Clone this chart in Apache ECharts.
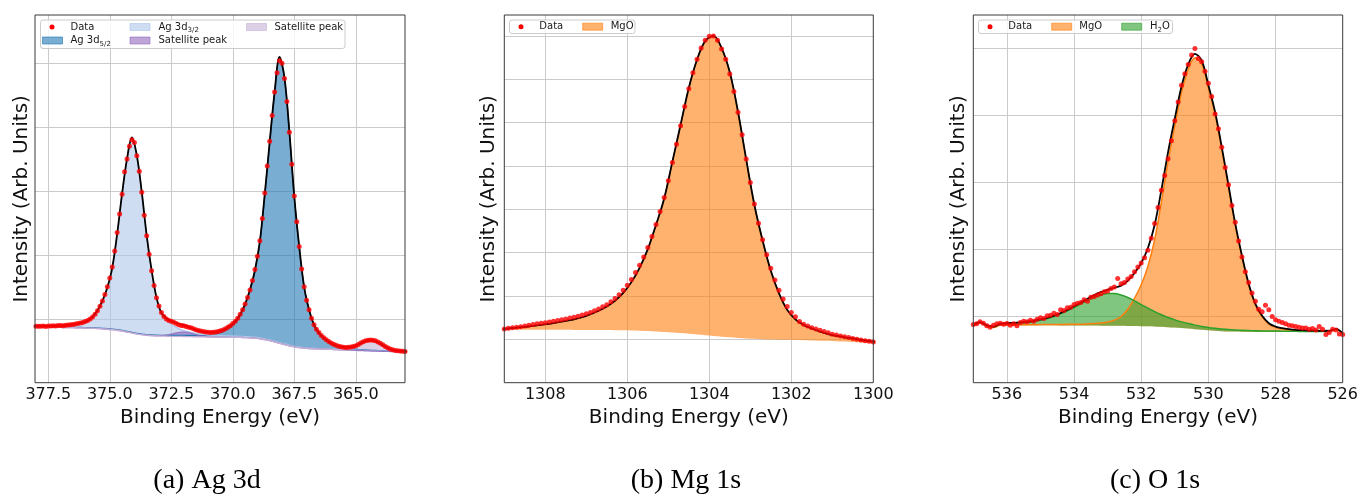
<!DOCTYPE html>
<html><head><meta charset="utf-8">
<script src="https://cdn.jsdelivr.net/npm/echarts@6/dist/echarts.min.js"></script>
<style>html,body{margin:0;padding:0;background:#fff}#c{width:1359px;height:496px}</style>
</head><body><div id="c"></div><script>
// ---------------- (a) Ag 3d ----------------
const agRange = [363.0, 378.04];
const agTickStep = 2.5;
const agCompE0 = 378.1, agCompStep = 0.2;   // component grid (eV)
const agDataE0 = 378.0, agDataStep = 0.1;   // measured points (eV)
const agBg = [0.870,0.869,0.868,0.867,0.866,0.865,0.864,0.863,0.861,0.859,
 0.857,0.855,0.852,0.848,0.843,0.837,0.830,0.821,0.809,0.794,
 0.778,0.763,0.751,0.743,0.737,0.733,0.730,0.728,0.726,0.725,
 0.724,0.722,0.720,0.718,0.717,0.716,0.715,0.714,0.713,0.712,
 0.711,0.710,0.708,0.706,0.703,0.697,0.688,0.675,0.658,0.638,
 0.617,0.597,0.578,0.562,0.550,0.541,0.535,0.531,0.528,0.525,
 0.522,0.519,0.516,0.513,0.510,0.507,0.504,0.501,0.498,0.495,
 0.493,0.491,0.489,0.487,0.485,0.483,0.481];
const agP32 = [0.011,0.012,0.014,0.016,0.018,0.022,0.026,0.032,0.043,0.060,
 0.081,0.108,0.171,0.275,0.430,0.645,0.960,1.500,2.140,2.700,
 3.050,2.780,2.220,1.550,1.010,0.586,0.340,0.250,0.185,0.140,
 0.105,0.082,0.066,0.054,0.045,0.038,0.033,0.029,0.026,0.023,
 0.021,0.019,0.017,0.016,0.015,0.014,0.013,0.012,0.011,0.010,
 0.010,0.009,0.009,0.008,0.008,0.007,0.007,0.007,0.006,0.006,
 0.006,0.005,0.005,0.005,0.005,0.005,0.005,0.005,0.004,0.004,
 0.004,0.004,0.004,0.004,0.004,0.004,0.004];
const agP52 = [0.005,0.005,0.005,0.006,0.006,0.006,0.006,0.006,0.007,0.007,
 0.007,0.007,0.007,0.007,0.007,0.008,0.008,0.008,0.008,0.009,
 0.009,0.009,0.010,0.010,0.011,0.011,0.012,0.013,0.014,0.015,
 0.016,0.018,0.020,0.022,0.025,0.030,0.036,0.050,0.071,0.110,
 0.158,0.231,0.345,0.508,0.742,1.049,1.509,2.263,3.100,3.900,
 4.470,4.170,3.340,2.340,1.570,0.950,0.600,0.370,0.246,0.168,
 0.115,0.072,0.050,0.036,0.028,0.022,0.018,0.015,0.013,0.011,
 0.010,0.009,0.008,0.007,0.007,0.006,0.006];
const agSat1 = [0,0,0,0,0,0,0,0,0,0,
 0,0,0,0,0,0,0,0,0,0,
 0,0,0,0,0,0.002,0.007,0.017,0.034,0.054,
 0.068,0.068,0.054,0.034,0.017,0.007,0.002,0,0,0,
 0,0,0,0,0,0,0,0,0,0,
 0,0,0,0,0,0,0,0,0,0,
 0,0,0,0,0,0,0,0,0,0,
 0,0,0,0,0,0,0];
const agSat2 = [0,0,0,0,0,0,0,0,0,0,
 0,0,0,0,0,0,0,0,0,0,
 0,0,0,0,0,0,0,0,0,0,
 0,0,0,0,0,0,0,0,0,0,
 0,0,0,0,0,0,0,0,0,0,
 0,0,0,0,0,0,0,0,0,0,
 0,0,0.001,0.005,0.014,0.036,0.072,0.116,0.149,0.152,
 0.124,0.081,0.042,0.017,0.006,0.002,0];
const agData = [0.885,0.882,0.884,0.886,0.880,0.889,0.887,0.892,0.888,0.894,
 0.897,0.893,0.898,0.902,0.905,0.912,0.918,0.926,0.935,0.944,
 0.958,0.972,0.995,1.030,1.072,1.125,1.195,1.280,1.380,1.500,
 1.640,1.810,2.060,2.350,2.640,2.950,3.300,3.500,3.700,3.800,
 3.760,3.550,3.310,2.980,2.620,2.300,2.010,1.750,1.520,1.330,
 1.200,1.100,1.035,0.995,0.975,0.962,0.945,0.925,0.908,0.895,
 0.890,0.880,0.868,0.858,0.843,0.830,0.818,0.808,0.800,0.795,
 0.790,0.786,0.788,0.792,0.800,0.812,0.826,0.846,0.866,0.892,
 0.925,0.962,1.010,1.070,1.140,1.230,1.335,1.450,1.600,1.770,
 1.980,2.220,2.570,2.970,3.390,3.780,4.180,4.550,4.850,5.040,
 5.000,4.760,4.400,3.920,3.420,2.920,2.520,2.130,1.780,1.500,
 1.290,1.140,1.010,0.905,0.835,0.785,0.740,0.705,0.672,0.646,
 0.622,0.602,0.585,0.572,0.563,0.556,0.552,0.553,0.557,0.566,
 0.580,0.598,0.620,0.640,0.656,0.666,0.670,0.666,0.655,0.638,
 0.617,0.593,0.568,0.545,0.527,0.514,0.505,0.499,0.495,0.492,
 0.490];

// ---------------- (b) Mg 1s ----------------
const mgRange = [1300, 1309];
const mgTickStep = 2;
const mgCompE0 = 1309.1, mgCompStep = 0.2;
const mgDataE0 = 1309.0, mgDataStep = 0.1;
const mgBg = [1.225,1.225,1.224,1.224,1.223,1.222,1.221,1.220,1.219,1.218,
 1.217,1.216,1.215,1.213,1.211,1.208,1.204,1.199,1.192,1.183,
 1.172,1.159,1.144,1.128,1.111,1.094,1.078,1.062,1.047,1.034,
 1.022,1.012,1.004,0.998,0.993,0.989,0.985,0.980,0.975,0.970,
 0.965,0.958,0.950,0.940,0.928,0.915,0.910];
const mgMgO = [0.010,0.025,0.046,0.066,0.087,0.113,0.139,0.170,0.206,0.242,
 0.293,0.364,0.445,0.547,0.679,0.862,1.116,1.451,1.888,2.457,
 3.078,3.941,4.806,5.672,6.339,6.786,6.922,6.658,6.113,5.216,
 4.128,3.088,2.276,1.582,1.067,0.691,0.475,0.350,0.275,0.210,
 0.155,0.122,0.098,0.080,0.060,0.045,0.035];
const mgData = [1.240,1.255,1.270,1.280,1.290,1.310,1.325,1.340,1.360,1.370,
 1.385,1.400,1.420,1.435,1.450,1.470,1.490,1.510,1.530,1.560,
 1.590,1.620,1.660,1.700,1.750,1.800,1.870,1.940,2.030,2.130,
 2.250,2.380,2.540,2.710,2.900,3.120,3.370,3.650,3.950,4.270,
 4.660,5.080,5.500,5.930,6.370,6.780,7.150,7.460,7.720,7.900,
 7.990,8.000,7.900,7.700,7.460,7.120,6.720,6.240,5.720,5.160,
 4.620,4.120,3.680,3.300,2.950,2.640,2.370,2.130,1.930,1.760,
 1.620,1.520,1.410,1.350,1.310,1.270,1.240,1.210,1.180,1.150,
 1.120,1.100,1.080,1.060,1.040,1.020,1.000,0.985,0.970,0.955,
 0.940];

// ---------------- (c) O 1s ----------------
const oRange = [526, 537];
const oTickStep = 2;
const oCompE0 = 537.0, oCompStep = 0.2;
const oDataE0 = 537.0, oDataStep = 0.1;
const oBg = [0.848,0.887,0.840,0.818,0.855,0.862,0.861,0.860,0.860,0.859,
 0.859,0.858,0.858,0.857,0.857,0.856,0.855,0.855,0.854,0.853,
 0.852,0.851,0.850,0.849,0.847,0.845,0.843,0.840,0.836,0.831,
 0.825,0.818,0.810,0.801,0.792,0.784,0.777,0.771,0.767,0.764,
 0.762,0.761,0.760,0.760,0.759,0.759,0.759,0.758,0.758,0.758,
 0.757,0.757,0.757,0.760,0.790,0.725];
const oMgO = [0.005,0.005,0.006,0.006,0.006,0.007,0.007,0.008,0.008,0.009,
 0.010,0.011,0.012,0.014,0.016,0.018,0.021,0.025,0.031,0.040,
 0.055,0.085,0.140,0.250,0.416,0.620,0.900,1.298,1.864,2.474,
 3.010,3.520,3.876,4.059,3.978,3.624,3.237,2.718,2.156,1.592,
 1.117,0.700,0.403,0.225,0.117,0.068,0.044,0.031,0.022,0.018,
 0.015,0.013,0.011,0.010,0.009,0.008];
const oH2O = [0.012,0.013,0.014,0.016,0.019,0.022,0.027,0.034,0.044,0.058,
 0.077,0.101,0.133,0.172,0.217,0.269,0.323,0.377,0.425,0.462,
 0.483,0.483,0.462,0.425,0.377,0.323,0.272,0.222,0.180,0.145,
 0.115,0.092,0.074,0.060,0.050,0.042,0.036,0.031,0.027,0.024,
 0.021,0.019,0.017,0.015,0.014,0.013,0.012,0.011,0.010,0.009,
 0.009,0.008,0.008,0.007,0.007,0.007];
const oData = [0.870,0.880,0.910,0.890,0.850,0.830,0.860,0.880,0.890,0.875,
 0.885,0.860,0.880,0.850,0.900,0.920,0.910,0.935,0.920,0.950,
 0.970,0.960,1.000,1.010,1.040,1.020,1.090,1.080,1.120,1.130,
 1.170,1.190,1.200,1.240,1.220,1.280,1.290,1.310,1.330,1.360,
 1.370,1.410,1.430,1.560,1.480,1.500,1.550,1.590,1.660,1.730,
 1.790,1.870,1.980,2.160,2.380,2.620,2.880,3.100,3.350,3.620,
 3.920,4.200,4.450,4.620,4.760,4.900,5.000,4.850,4.800,4.660,
 4.480,4.280,4.020,3.800,3.520,3.220,2.960,2.650,2.400,2.120,
 1.880,1.660,1.500,1.340,1.220,1.100,1.060,1.160,1.090,0.990,
 0.940,0.920,0.900,0.880,0.860,0.850,0.840,0.830,0.820,0.820,
 0.800,0.810,0.790,0.840,0.800,0.720,0.750,0.800,0.790,0.730,
 0.720];

// y extents (arb. units, one grid step = 1)
const yMax = [5.754, 8.482, 5.50];

// ---------------- helpers ----------------
const FONT = '"DejaVu Sans", Verdana, sans-serif';
const SM = 0.35;
const r2 = v => Math.round(v * 100) / 100;
function yx(vals, e0, de) { return vals.map((v, i) => [v, r2(e0 - de * i)]); }
function xy(vals, e0, de) { return vals.map((v, i) => [r2(e0 - de * i), v]); }
function hid(k, name, stack, vals, e0, de) {
  return { type: 'line', name, xAxisIndex: k, yAxisIndex: k, stack, data: yx(vals, e0, de),
    encode: { x: 1, y: 0 }, smooth: SM, symbol: 'none', showSymbol: false, silent: true,
    emphasis: { disabled: true }, lineStyle: { width: 0, opacity: 0 }, z: 2 };
}
function fill(k, name, stack, vals, e0, de, fc, lc, lw) {
  const s = hid(k, name, stack, vals, e0, de);
  s.areaStyle = { color: fc, opacity: 1 };
  s.lineStyle = { color: lc, width: lw, opacity: 1 };
  return s;
}
function fit(k, stack, vals, e0, de) {
  const s = hid(k, 'fit' + k, stack, vals, e0, de);
  s.lineStyle = { color: '#000', width: 1.8, opacity: 1 };
  s.z = 3;
  return s;
}
function pts(k, vals, e0, de) {
  return { type: 'scatter', xAxisIndex: k, yAxisIndex: k, data: xy(vals, e0, de), symbol: 'circle',
    symbolSize: 5, itemStyle: { color: '#ff0000' }, silent: true, z: 4 };
}

const C = {
  b5: 'rgba(31,119,180,0.6)', b3: 'rgba(174,199,232,0.6)', s1: 'rgba(148,103,189,0.6)', s2: 'rgba(197,176,213,0.6)',
  or: 'rgba(255,127,14,0.6)', gr: 'rgba(44,160,44,0.6)'
};

const series = [
  // (a)
  hid(0, 'a0', 'aA', agBg, agCompE0, agCompStep),
  fill(0, 'Ag 3d5/2', 'aA', agP52, agCompE0, agCompStep, C.b5, '#1f77b4', 1.3),
  hid(0, 'a1', 'aB', agBg, agCompE0, agCompStep),
  fill(0, 'Ag 3d3/2', 'aB', agP32, agCompE0, agCompStep, C.b3, '#aec7e8', 1.3),
  hid(0, 'a2', 'aC', agBg, agCompE0, agCompStep),
  fill(0, 'Satellite 1', 'aC', agSat1, agCompE0, agCompStep, C.s1, 'rgba(148,103,189,0.8)', 1.3),
  hid(0, 'a3', 'aD', agBg, agCompE0, agCompStep),
  fill(0, 'Satellite 2', 'aD', agSat2, agCompE0, agCompStep, C.s2, '#c5b0d5', 1.3),
  hid(0, 'a4', 'aT', agBg, agCompE0, agCompStep),
  hid(0, 'a5', 'aT', agP32, agCompE0, agCompStep),
  hid(0, 'a6', 'aT', agP52, agCompE0, agCompStep),
  hid(0, 'a7', 'aT', agSat1, agCompE0, agCompStep),
  fit(0, 'aT', agSat2, agCompE0, agCompStep),
  pts(0, agData, agDataE0, agDataStep),
  // (b)
  hid(1, 'b0', 'bA', mgBg, mgCompE0, mgCompStep),
  fill(1, 'MgO b', 'bA', mgMgO, mgCompE0, mgCompStep, C.or, '#ff7f0e', 1.3),
  hid(1, 'b1', 'bT', mgBg, mgCompE0, mgCompStep),
  fit(1, 'bT', mgMgO, mgCompE0, mgCompStep),
  pts(1, mgData, mgDataE0, mgDataStep),
  // (c)
  hid(2, 'c0', 'cA', oBg, oCompE0, oCompStep),
  fill(2, 'MgO c', 'cA', oMgO, oCompE0, oCompStep, C.or, '#ff7f0e', 1.5),
  hid(2, 'c1', 'cB', oBg, oCompE0, oCompStep),
  fill(2, 'H2O', 'cB', oH2O, oCompE0, oCompStep, C.gr, '#2ca02c', 1.5),
  hid(2, 'c2', 'cT', oBg, oCompE0, oCompStep),
  hid(2, 'c3', 'cT', oMgO, oCompE0, oCompStep),
  fit(2, 'cT', oH2O, oCompE0, oCompStep),
  pts(2, oData, oDataE0, oDataStep)
];

const gridBox = [
  { left: 35, width: 370 },
  { left: 504.3, width: 369 },
  { left: 973.3, width: 369.4 }
];
const GTOP = 15, GH = 367.7;
const grids = gridBox.map(g => ({ left: g.left, width: g.width, top: GTOP, height: GH, show: false,
  containLabel: false, outerBoundsMode: 'none' }));

const ranges = [agRange, mgRange, oRange];
const steps = [agTickStep, mgTickStep, oTickStep];
const fmts = [v => v.toFixed(1), v => String(Math.round(v)), v => String(Math.round(v))];
const xAxes = ranges.map((r, k) => ({
  gridIndex: k, type: 'value', inverse: true, min: r[0], max: r[1],
  minInterval: steps[k], maxInterval: steps[k],
  axisLine: { show: false }, axisTick: { show: false },
  splitLine: { show: true, showMinLine: false, showMaxLine: false, lineStyle: { color: '#cbcbcb', width: 1 } },
  axisLabel: { showMinLabel: k !== 0, showMaxLabel: false, fontFamily: FONT, fontSize: 16, color: '#111', margin: 4, formatter: fmts[k] },
  name: 'Binding Energy (eV)', nameLocation: 'middle', nameGap: 23,
  nameTextStyle: { fontFamily: FONT, fontSize: 20, color: '#111' }
}));
const nameGaps = [3, 6, 5];
const yAxes = yMax.map((m, k) => ({
  gridIndex: k, type: 'value', min: 0, max: m, interval: 1,
  axisLine: { show: false }, axisTick: { show: false }, axisLabel: { show: false },
  splitLine: { show: true, showMinLine: false, showMaxLine: false, lineStyle: { color: '#cbcbcb', width: 1 } },
  name: 'Intensity (Arb. Units)', nameLocation: 'middle', nameGap: nameGaps[k], nameRotate: 90,
  nameTextStyle: { fontFamily: FONT, fontSize: 20, color: '#111' }
}));

// ---------------- frames, legends & captions (graphic) ----------------
function frame(g) {
  return { type: 'rect', z: 99, silent: true, shape: { x: g.left, y: GTOP, width: g.width, height: GH },
    style: { fill: 'none', stroke: '#3a3a3a', lineWidth: 1 } };
}
const LF = { fontSize: 10, fontFamily: 'DejaVu Sans', fill: '#1a1a1a' };
function ltext(x, y, text, rich) {
  const st = Object.assign({ x, y, text, verticalAlign: 'middle', align: 'left' }, LF);
  if (rich) st.rich = { n: Object.assign({ lineHeight: 14 }, LF), s: { fontSize: 7, fontFamily: 'DejaVu Sans', fill: '#1a1a1a', lineHeight: 8, verticalAlign: 'bottom' } };
  return { type: 'text', z: 101, style: st, silent: true };
}
function lbox(x, y, w, h) {
  return { type: 'rect', z: 100, shape: { x, y, width: w, height: h, r: 2.5 }, style: { fill: 'rgba(255,255,255,0.8)', stroke: '#cccccc', lineWidth: 1 }, silent: true };
}
function lsw(x, cy, color) {
  return { type: 'rect', z: 101, shape: { x, y: cy - 3.5, width: 20, height: 7 }, style: { fill: color, stroke: color, lineWidth: 1 }, silent: true };
}
function ldot(cx, cy) {
  return { type: 'circle', z: 101, shape: { cx, cy, r: 2.5 }, style: { fill: '#ff0000' }, silent: true };
}
function caption(x, text) {
  return { type: 'text', z: 101, silent: true, style: { x, y: 481, text, align: 'center', verticalAlign: 'middle', fontSize: 28, fontFamily: '"Liberation Serif", "Times New Roman", serif', fill: '#000' } };
}
const R1 = 27, R2 = 40.5, RB = 26.7;
const graphic = gridBox.map(frame).concat([
  lbox(40.5, 20, 304.5, 28.5),
  ldot(52, R1), ltext(70.5, R1, 'Data'),
  lsw(42.5, R2, C.b5), ltext(70.5, R2, '{n|Ag 3d}{s|5/2}', true),
  lsw(130, R1, C.b3), ltext(158.5, R1, '{n|Ag 3d}{s|3/2}', true),
  lsw(130, R2, C.s1), ltext(158.5, R2, 'Satellite peak'),
  lsw(246.5, R1, C.s2), ltext(274.5, R1, 'Satellite peak'),

  lbox(509.5, 20, 125.5, 13.5),
  ldot(521, RB), ltext(539.3, RB, 'Data'),
  lsw(582.7, RB, C.or), ltext(610.7, RB, 'MgO'),

  lbox(978.5, 20, 194, 13.5),
  ldot(990, RB), ltext(1008.3, RB, 'Data'),
  lsw(1051.7, RB, C.or), ltext(1079.3, RB, 'MgO'),
  lsw(1121.7, RB, C.gr), ltext(1150, RB, '{n|H}{s|2}{n|O}', true),

  caption(207, '(a) Ag 3d'),
  caption(686, '(b) Mg 1s'),
  caption(1155, '(c) O 1s')
]);

const chart = echarts.init(document.getElementById('c'), null, { renderer: 'canvas' });
chart.setOption({
  animation: false,
  backgroundColor: '#ffffff',
  grid: grids,
  xAxis: xAxes,
  yAxis: yAxes,
  series,
  graphic
});
</script></body></html>
